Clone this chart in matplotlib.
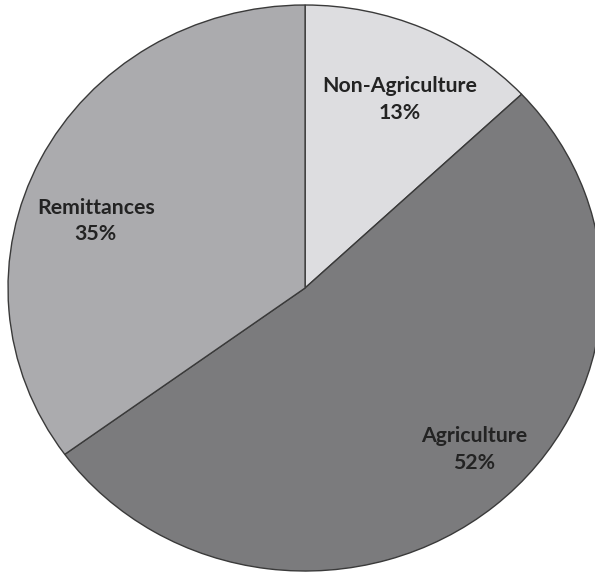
import matplotlib
matplotlib.use("Agg")
import matplotlib.pyplot as plt

# Income sources
categories = ["Non-Agriculture", "Agriculture", "Remittances"]
shares = [13, 52, 35]
colors = ["#dddde0", "#7b7b7d", "#ababae"]

fig = plt.figure(figsize=(5.95, 5.72), dpi=100)
ax = fig.add_axes([0, 0, 1, 1])

wedges, _ = ax.pie(shares, colors=colors, startangle=90, counterclock=False,
                   wedgeprops=dict(edgecolor="#3a3a3a", linewidth=1.0))

# let the pie stretch slightly to the figure's shape
ax.set_aspect("auto")
ax.set_xlim(-1.027, 0.976)
ax.set_ylim(-1.0035, 1.0177)
ax.axis("off")

label_pos = [(0.32, 0.666), (0.57, -0.57), (-0.705, 0.237)]
for name, val, (x, y) in zip(categories, shares, label_pos):
    ax.text(x, y, f"{name}\n{val}%", ha="center", va="center",
            fontsize=15.3, fontweight="bold", color="#232323",
            family=["Lato", "DejaVu Sans"], linespacing=1.42)

fig.savefig("out.png", dpi=100, facecolor="white")
